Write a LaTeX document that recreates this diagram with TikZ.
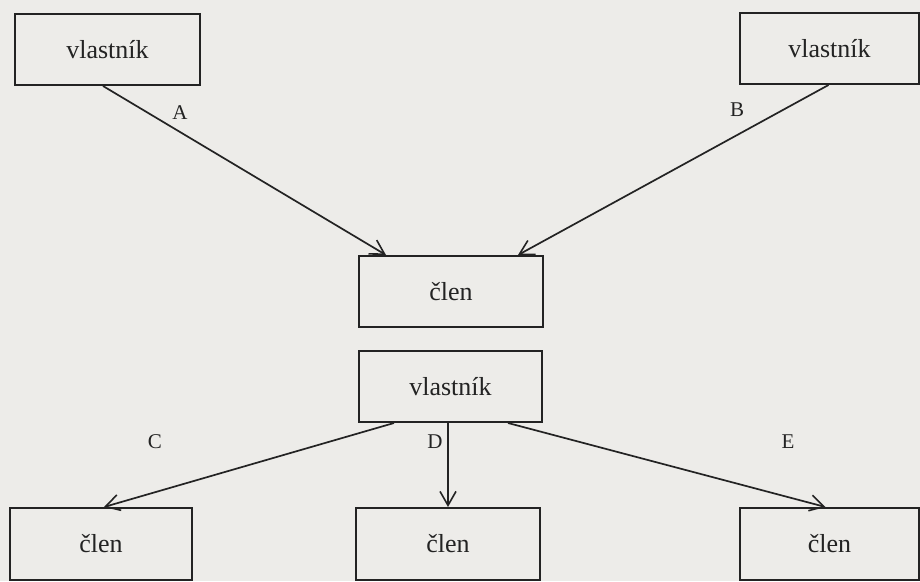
\documentclass[tikz,border=0pt]{standalone}
\usepackage{fontspec}
\setmainfont{Liberation Serif}
\usetikzlibrary{arrows.meta}
\definecolor{paper}{RGB}{237,236,233}
\definecolor{ink}{RGB}{35,35,35}
\begin{document}
\begin{tikzpicture}[x=1pt,y=-1pt,
  box/.style={draw=ink, line width=2pt, inner sep=0pt, anchor=north west, text=ink,
    font=\fontsize{26}{30}\selectfont},
  arr/.style={draw=ink, line width=1.7pt, -{Straight Barb[length=14pt,width=16pt,line width=1.6pt]}},
  lab/.style={text=ink, font=\fontsize{21}{24}\selectfont, inner sep=0pt}]
\fill[paper] (0,0) rectangle (920,581);
\useasboundingbox (0,0) rectangle (920,581);
\node[box, minimum width=185pt, minimum height=71pt] (tl) at (14,13) {vlastník};
\node[box, minimum width=179pt, minimum height=71pt] (tr) at (739,12) {vlastník};
\node[box, minimum width=184pt, minimum height=71pt] (cc) at (358,255) {člen};
\node[box, minimum width=183pt, minimum height=71pt] (mv) at (358,350) {vlastník};
\node[box, minimum width=182pt, minimum height=72pt] (bl) at (9,507) {člen};
\node[box, minimum width=184pt, minimum height=72pt] (bm) at (355,507) {člen};
\node[box, minimum width=179pt, minimum height=72pt] (br) at (739,507) {člen};
\draw[arr] ([xshift=-4.5pt]tl.south) -- ([xshift=-65pt]cc.north);
\draw[arr] ([xshift=-1pt]tr.south) -- ([xshift=67pt]cc.north);
\draw[arr] ([xshift=-56.5pt]mv.south) -- ([xshift=3pt]bl.north);
\draw[arr] ([xshift=-2.5pt]mv.south) -- (bm.north);
\draw[arr] ([xshift=57.5pt]mv.south) -- ([xshift=-4pt]br.north);
\node[lab] (la) at (180,113) {A};
\node[lab] (lb) at (737,110) {B};
\node[lab] (lc) at (155,442) {C};
\node[lab] (ld) at (435,442) {D};
\node[lab] (le) at (788,442) {E};
\end{tikzpicture}
\end{document}
